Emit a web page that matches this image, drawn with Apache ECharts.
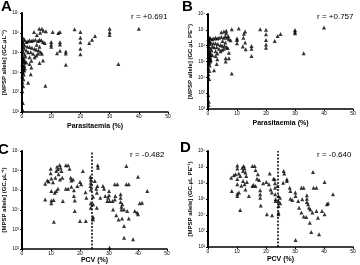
<!DOCTYPE html>
<html>
<head>
<meta charset="utf-8">
<script src="https://cdn.jsdelivr.net/npm/echarts@6/dist/echarts.min.js"></script>
<style>
html, body { margin: 0; padding: 0; background: #fff; }
#chart { width: 360px; height: 265px; }
</style>
</head>
<body>
<div id="chart"></div>
<script>
// each point: [x (%), exponent of copies]
const panelA = [
  [40,6.21],[30,6.21],[30,6.03],[30,5.89],[33,4.42],[25,5.84],[24,5.65],[23,5.48],[18,6.18],[20,6.04],
  [20,5.75],[20,5.52],[20,5.2],[20,4.92],[15,5.05],[15,4.95],[15,4.39],[13,6.04],[12.4,5.99],[13,5.52],
  [13,5.41],[13,5.09],[12,4.97],[10.5,6.04],[10,5.53],[10,5.41],[10,5.3],[8,3.33],[8.2,6.08],[7.3,6.1],
  [6.8,6.2],[5.9,6.2],[6.2,6.0],[5.1,5.89],[4.1,6.04],
  [0.9,5.62],[1.5,5.53],[2,5.57],[2.6,5.62],[3.2,5.58],[3.8,5.62],[4.6,5.65],[5.5,5.58],[6,5.65],[6.6,5.62],
  [7.2,5.53],[7.8,5.48],[0.9,5.36],[1.8,5.31],[2.6,5.28],[3.4,5.24],[4.3,5.19],[4.9,5.14],[5.7,5.1],[6.4,5.02],
  [6.8,4.94],[5.5,4.94],[4.9,4.85],[3.8,4.94],[3,5.02],[2.1,5.02],[1.5,5.1],[2.6,4.76],[3.2,4.59],[2.6,4.42],
  [3.2,4.25],[3,3.91],[2.1,3.48],[6,4.47],[7.2,4.6],[4.3,4.76],[5,5.4],[6,5.3],[1.2,4.8],[1.5,4.5],[1,4.2],
  [0.2,2.1],[0.3,2.45],[0.1,3.05],[0.4,3.3],[0.2,3.5],[0.5,3.65],[0.1,3.8],[0.6,3.9],[0.3,4.0],[0.8,4.1],
  [0.2,4.2],[0.5,4.3],[0.1,4.4],[0.7,4.5],[0.3,4.6],[0.6,4.7],[0.2,4.8],[0.9,4.9],[0.4,5.0],[0.1,5.1],
  [0.7,5.2],[0.3,5.3],[0.5,5.45],[0.2,5.55],[0.6,5.7],[0.4,4.65],[0.8,4.35],[0.2,4.05],[1.0,4.55],[0.5,4.15]
]
const panelB = [
  [40,7.14],[30,6.99],[30,6.88],[30,6.78],[33,5.52],[25,6.74],[24,6.61],[23,6.29],[18,7.03],[20,7.0],
  [20,6.72],[20,6.36],[20,6.08],[20,5.87],[15,5.98],[15,5.81],[15,5.35],[12.8,6.9],[12.4,6.75],[12.8,6.2],
  [12,5.95],[13,5.78],[12.2,6.5],[10.6,7.09],[10,6.46],[10,6.36],[10,6.15],[8.2,7.03],[8.2,4.25],[7.2,5.2],
  [6.1,5.2],[6.1,5.0],[6.3,6.95],[6.3,6.78],[5.5,6.9],[4.6,6.85],[7,6.6],
  [0.9,6.45],[1.5,6.4],[2,6.45],[2.6,6.5],[3.2,6.45],[3.8,6.5],[4.6,6.55],[5.5,6.5],[6,6.6],[6.6,6.5],
  [7.2,6.4],[7.8,6.35],[0.9,6.2],[1.8,6.15],[2.6,6.15],[3.4,6.1],[4.3,6.05],[4.9,6.0],[5.7,6.0],[6.4,5.9],
  [6.8,5.85],[5.5,5.8],[4.9,5.75],[3.8,5.8],[3,5.9],[2.1,5.9],[1.5,5.95],[2.6,5.65],[3.2,5.5],[2.6,5.35],
  [3.2,5.15],[3,4.85],[2.1,4.45],[7.2,5.55],[4.3,5.65],[5,6.3],[6,6.2],[1.2,5.7],[1.5,5.4],[1,5.1],
  [0.2,2.25],[0.3,2.46],[0.1,2.88],[0.4,3.9],[0.2,4.2],[0.5,4.4],[0.1,4.6],[0.6,4.75],[0.3,4.9],[0.8,5.0],
  [0.2,5.1],[0.5,5.2],[0.1,5.3],[0.7,5.4],[0.3,5.5],[0.6,5.6],[0.2,5.7],[0.9,5.8],[0.4,5.9],[0.1,6.0],
  [0.7,6.1],[0.3,6.2],[0.5,6.3],[0.2,6.4],[0.6,6.5],[0.4,5.55],[0.8,5.25],[0.2,4.95],[1.0,5.45],[0.5,5.05]
]
const panelC = [
  [8,4.53],[8,5.33],[8.7,5.5],[9.2,5.44],[9.9,6.1],[9.9,5.86],[10.1,5.6],[10.1,4.96],[10.1,4.48],[10.1,4.33],
  [10.9,4.5],[11,3.39],[10.7,5.41],[11.5,5.64],[11.8,5.98],[12.1,6.2],[12.4,6.07],[12.6,5.81],[13,6.29],[13.3,6.15],
  [13.6,5.98],[13.9,5.64],[13.1,5.55],[12.4,5.08],[11.8,4.96],[11.3,4.87],[14.1,4.45],[15.1,6.27],[15.9,6.27],[16.4,6.1],
  [16.8,5.64],[17,5.5],[17.6,5.55],[15.1,5.08],[15.9,5.08],[17,5.18],[17.9,5.0],[17.9,4.7],[18.2,4.48],[18.2,3.94],
  [19.1,5.21],[20,5.42],[20.4,5.3],[21,5.98],[20,3.43],[22,3.43],[21.9,4.9],[22.2,4.62],[23.6,5.69],[23.7,5.55],
  [23.7,5.38],[23.6,5.21],[23.7,5.04],[23.7,4.33],[23.7,4.11],[24.5,4.67],[24.5,4.28],[24.5,3.63],[24.5,3.51],[25.1,5.47],
  [25.6,5.08],[25.8,4.87],[25.8,4.11],[26.1,6.27],[26.2,6.15],[26,5.21],[27,4.62],[27.9,5.21],[28.3,5.08],[28.7,4.7],
  [29.7,4.62],[30,4.96],[30,4.74],[30.2,4.45],[30.2,2.07],[29.4,4.45],[31.2,4.45],[31.4,4.02],[32,5.3],[32.9,5.3],
  [32,4.53],[32.2,4.7],[32.5,3.72],[33.3,3.51],[34,4.79],[34,4.62],[34,4.4],[34.3,4.16],[34.3,4.02],[34.6,4.28],
  [35.2,4.02],[34.5,3.55],[35.2,3.17],[35.2,2.58],[36,6.23],[36,5.3],[36.8,5.3],[36.3,3.94],[36.8,3.55],[38.3,2.5],
  [38.9,3.94],[40,5.69],[40,3.77],[40.6,4.33],[41.4,4.36],[43.2,4.96],[39.7,3.86]
]
const panelD = [
  [8.2,5.5],[8,6.33],[8.9,6.48],[9.5,6.54],[10.1,7.1],[10.1,6.9],[10.1,6.25],[10.1,5.92],[10.1,5.33],[10.1,5.19],
  [10.7,5.4],[11.1,4.31],[10.6,6.6],[11.1,6.44],[11.5,5.83],[11.8,6.96],[12.1,6.75],[12.3,7.06],[12.6,6.9],[12.9,6.65],
  [13.2,6.44],[13.4,6.06],[12.6,5.92],[12.1,6.13],[12.9,5.6],[14.1,5.19],[15.3,7.06],[16.1,7.06],[16.4,6.81],[16.9,6.27],
  [17.2,6.54],[15.7,5.88],[15.3,5.81],[16.4,5.81],[17.6,6.19],[18,5.54],[18,5.29],[18,5.08],[18.2,4.6],[19,5.98],
  [20.1,6.06],[20.3,4.04],[21.3,6.6],[21,5.92],[21.6,5.6],[22,5.4],[22.1,3.98],[22.6,6.27],[23,6.23],[23.1,5.98],
  [23.1,5.71],[23.2,5.29],[23.3,4.98],[23.3,4.88],[24,5.81],[24.3,5.19],[24.3,4.88],[24.3,4.56],[24.3,4.15],[24.3,4.04],
  [24.8,5.08],[24.9,4.73],[26.1,6.75],[26.3,6.6],[25.9,6.02],[27.2,6.23],[27.2,6.13],[28.2,5.71],[28.4,5.5],[28.4,5.02],
  [29.1,4.94],[30.1,5.4],[30.2,5.19],[30.2,2.44],[31.1,4.88],[31.4,4.46],[32.2,5.71],[33,5.71],[32.5,4.98],[32.2,4.15],
  [33,3.9],[33.9,3.88],[34.1,5.23],[34.1,5.02],[34.1,4.81],[34.5,4.67],[34.8,4.46],[35.3,4.35],[36,4.15],[35.1,3.52],
  [35.6,2.94],[36.2,6.69],[36.4,5.71],[37.4,5.71],[37.4,4.25],[37.9,3.83],[38.3,2.79],[40.2,6.06],[39.3,4.25],[40.2,4.04],
  [41,4.67],[41.4,4.73],[43.1,5.29]
]

const panelLetters = ['A', 'B', 'C', 'D']
const rLabels = ['r = +0.691', 'r = +0.757', 'r = -0.482', 'r = -0.640']
const xNames = ['Parasitaemia (%)', 'Parasitaemia (%)', 'PCV (%)', 'PCV (%)']
const yNames = ['[MPSP allele] (GC.µL⁻¹)', '[MPSP allele] (GC.µL PE⁻¹)', '[MPSP allele] (GC.µL⁻¹)', '[MPSP allele] (GC.µL PE⁻¹)']
const yMaxExp = [7, 8, 7, 8]
const xTicks = [0, 10, 20, 30, 40, 50]
const pcvCutoff = 24

const FONT = "'Liberation Sans', Arial, sans-serif"
const SUP = { '-': '⁻', 0: '⁰', 1: '¹', 2: '²', 3: '³', 4: '⁴', 5: '⁵', 6: '⁶', 7: '⁷', 8: '⁸', 9: '⁹' }

const grids = [
  { left: 22, top: 13, width: 146, height: 99 },
  { left: 208, top: 14, width: 145, height: 95 },
  { left: 22, top: 151, width: 145, height: 98 },
  { left: 208, top: 151, width: 145, height: 96 },
]
const xNameGap = [11, 11, 8, 9]

const chart = echarts.init(document.getElementById('chart'))

const xAxis = grids.map((g, i) => ({
  gridIndex: i,
  type: 'value',
  min: xTicks[0],
  max: xTicks[xTicks.length - 1],
  interval: 10,
  name: xNames[i],
  nameLocation: 'middle',
  nameGap: xNameGap[i],
  nameTextStyle: { fontFamily: FONT, fontSize: 7, fontWeight: 'bold', color: '#000' },
  axisLine: { lineStyle: { color: '#000', width: 1.5 } },
  axisTick: { length: 2, lineStyle: { color: '#000', width: 1 } },
  axisLabel: { fontFamily: FONT, fontSize: 5, color: '#000', margin: 2 },
  splitLine: { show: false },
}))

const yAxis = grids.map((g, i) => ({
  gridIndex: i,
  type: 'log',
  logBase: 10,
  min: 100,
  max: Math.pow(10, yMaxExp[i]),
  name: yNames[i],
  nameLocation: 'middle',
  nameRotate: 90,
  nameGap: 15,
  nameTextStyle: { fontFamily: FONT, fontSize: 6, fontWeight: 'bold', color: '#000' },
  axisLine: { lineStyle: { color: '#000', width: 2 } },
  axisTick: { length: 2, lineStyle: { color: '#000', width: 1 } },
  axisLabel: {
    fontFamily: FONT, fontSize: 4.5, color: '#000', margin: 3,
    formatter: v => '10' + String(Math.round(Math.log10(v))).split('').map(c => SUP[c]).join(''),
  },
  splitLine: { show: false },
}))

const panels = [panelA, panelB, panelC, panelD]
const series = panels.map((pts, i) => {
  const s = {
    type: 'scatter',
    xAxisIndex: i,
    yAxisIndex: i,
    symbol: 'triangle',
    symbolSize: 4,
    itemStyle: { color: '#000' },
    data: pts.map(p => [p[0], Math.pow(10, p[1])]),
  }
  if (i >= 2) {
    s.markLine = {
      silent: true,
      symbol: ['none', 'none'],
      label: { show: false },
      lineStyle: { color: '#000', type: [2, 1.5], width: 1.5 },
      data: [{ xAxis: pcvCutoff }],
    }
  }
  return s
})

const letterPos = [[1, -1], [182, -1], [-2, 142], [180, 140]]
const rPos = [[131, 13], [317, 13], [130, 151], [317, 151]]
const graphic = []
panelLetters.forEach((t, i) => {
  graphic.push({
    type: 'text', left: letterPos[i][0], top: letterPos[i][1],
    style: { text: t, font: 'bold 15px ' + FONT, fill: '#000' },
  })
  graphic.push({
    type: 'text', left: rPos[i][0], top: rPos[i][1],
    style: { text: rLabels[i], font: '8px ' + FONT, fill: '#000' },
  })
})

chart.setOption({
  animation: false,
  backgroundColor: '#fff',
  grid: grids,
  xAxis,
  yAxis,
  series,
  graphic,
})
</script>
</body>
</html>
